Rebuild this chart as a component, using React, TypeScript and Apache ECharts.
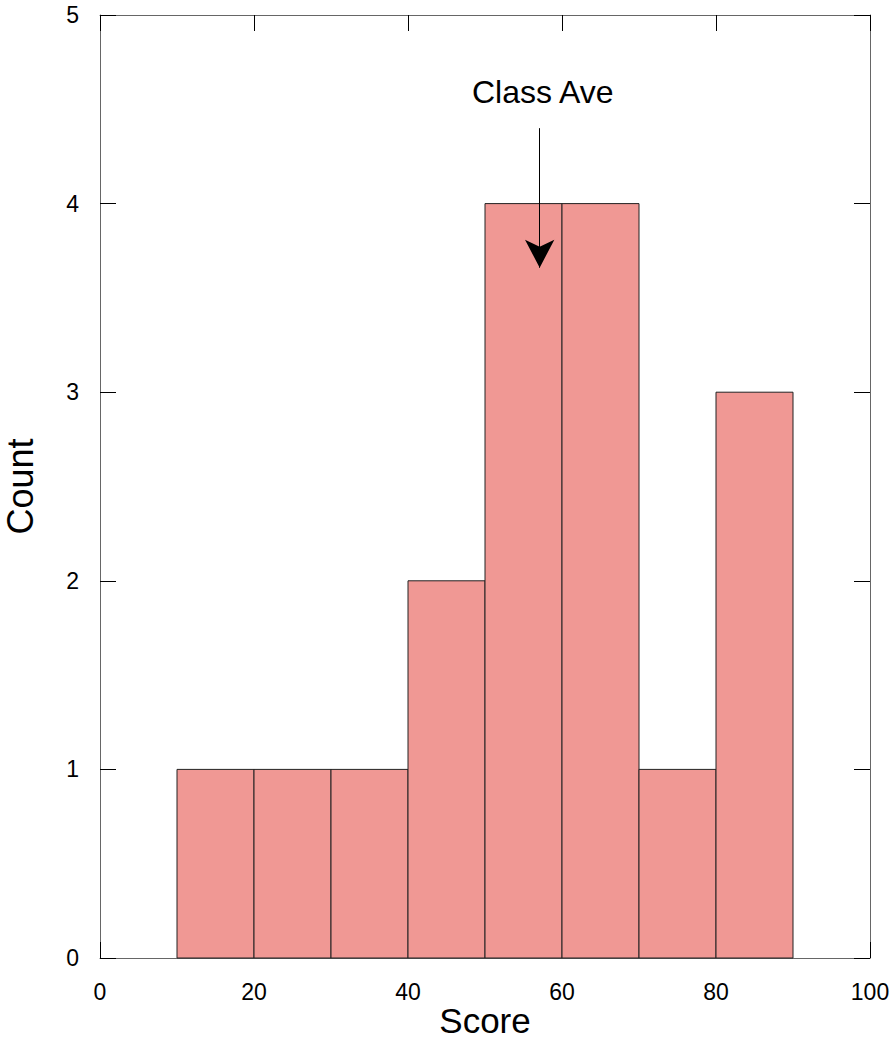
import React, { useEffect, useRef } from "react";
import * as echarts from "echarts";

// Histogram bins: [start, end, count]
const binStarts = [10, 20, 30, 40, 50, 60, 70, 80];
const binEnds = [20, 30, 40, 50, 60, 70, 80, 90];
const binCounts = [1, 1, 1, 2, 4, 4, 1, 3];

const xTicks = [0, 20, 40, 60, 80, 100];
const yTicks = [0, 1, 2, 3, 4, 5];

// Annotation
const arrowX = 57.1;
const arrowFromY = 4.4;
const arrowToY = 3.66;
const noteText = "Class Ave";
const notePos = [57.5, 4.59];

const FONT = "'Liberation Sans', Arial, sans-serif";

export default function App() {
  const ref = useRef<HTMLDivElement>(null);
  useEffect(() => {
    const chart = echarts.init(ref.current!, null, { renderer: "svg" });
    const binData = binStarts.map((s, i) => [s, binEnds[i], binCounts[i]]);
    const axisLine = { show: true, onZero: false, lineStyle: { color: "#666", width: 1 } };
    const axisTick = { show: true, inside: true, length: 16, lineStyle: { color: "#000", width: 1 } };
    chart.setOption({
      animation: false,
      backgroundColor: "#fff",
      grid: { left: 100, right: 21, top: 15, bottom: 84, containLabel: false, outerBoundsMode: "none" },
      xAxis: [
        {
          type: "value",
          position: "bottom",
          min: xTicks[0],
          max: xTicks[xTicks.length - 1],
          interval: 20,
          name: "Score",
          nameLocation: "middle",
          nameGap: 44,
          nameMoveOverlap: false,
          nameTextStyle: { fontFamily: FONT, fontSize: 35, lineHeight: 36, color: "#000" },
          axisLine,
          axisTick,
          splitLine: { show: false },
          axisLabel: { margin: 22, fontFamily: FONT, fontSize: 23, color: "#000" },
        },
        {
          type: "value",
          position: "top",
          min: xTicks[0],
          max: xTicks[xTicks.length - 1],
          interval: 20,
          axisLine,
          axisTick,
          splitLine: { show: false },
          axisLabel: { show: false },
        },
      ],
      yAxis: [
        {
          type: "value",
          position: "left",
          min: yTicks[0],
          max: yTicks[yTicks.length - 1],
          interval: 1,
          name: "Count",
          nameLocation: "middle",
          nameGap: 62,
          nameMoveOverlap: false,
          nameRotate: 90,
          nameTextStyle: { fontFamily: FONT, fontSize: 36, color: "#000" },
          axisLine,
          axisTick,
          splitLine: { show: false },
          axisLabel: { margin: 21, fontFamily: FONT, fontSize: 23, color: "#000" },
        },
        {
          type: "value",
          position: "right",
          min: yTicks[0],
          max: yTicks[yTicks.length - 1],
          interval: 1,
          axisLine,
          axisTick,
          splitLine: { show: false },
          axisLabel: { show: false },
        },
      ],
      series: [
        {
          type: "custom",
          xAxisIndex: 0,
          yAxisIndex: 0,
          data: binData,
          encode: { x: [0, 1], y: 2 },
          renderItem: (params: any, api: any) => {
            const p0 = api.coord([api.value(0), 0]);
            const p1 = api.coord([api.value(1), api.value(2)]);
            return {
              type: "rect",
              shape: { x: p0[0], y: p1[1], width: p1[0] - p0[0], height: p0[1] - p1[1] },
              style: { fill: "#F09894", stroke: "#222", lineWidth: 1 },
            };
          },
          z: 1,
        },
        {
          type: "line",
          xAxisIndex: 0,
          yAxisIndex: 0,
          data: [],
          markLine: {
            silent: true,
            symbol: ["none", "arrow"],
            symbolSize: [22, 28],
            label: { show: false },
            lineStyle: { color: "#000", width: 1, type: "solid" },
            data: [[{ coord: [arrowX, arrowFromY] }, { coord: [arrowX, arrowToY] }]],
          },
          z: 5,
        },
      ],
    });
    const p = chart.convertToPixel({ gridIndex: 0 }, notePos) as number[];
    chart.setOption({
      graphic: [
        {
          type: "text",
          x: p[0],
          y: p[1],
          z: 10,
          style: {
            text: noteText,
            fontFamily: FONT,
            fontSize: 32,
            fill: "#000",
            align: "center",
            verticalAlign: "middle",
          },
        },
      ],
    });
    return () => chart.dispose();
  }, []);
  return (
    <div
      ref={ref}
      style={{ position: "fixed", left: 0, top: 0, width: 891, height: 1042, background: "#fff" }}
    />
  );
}
